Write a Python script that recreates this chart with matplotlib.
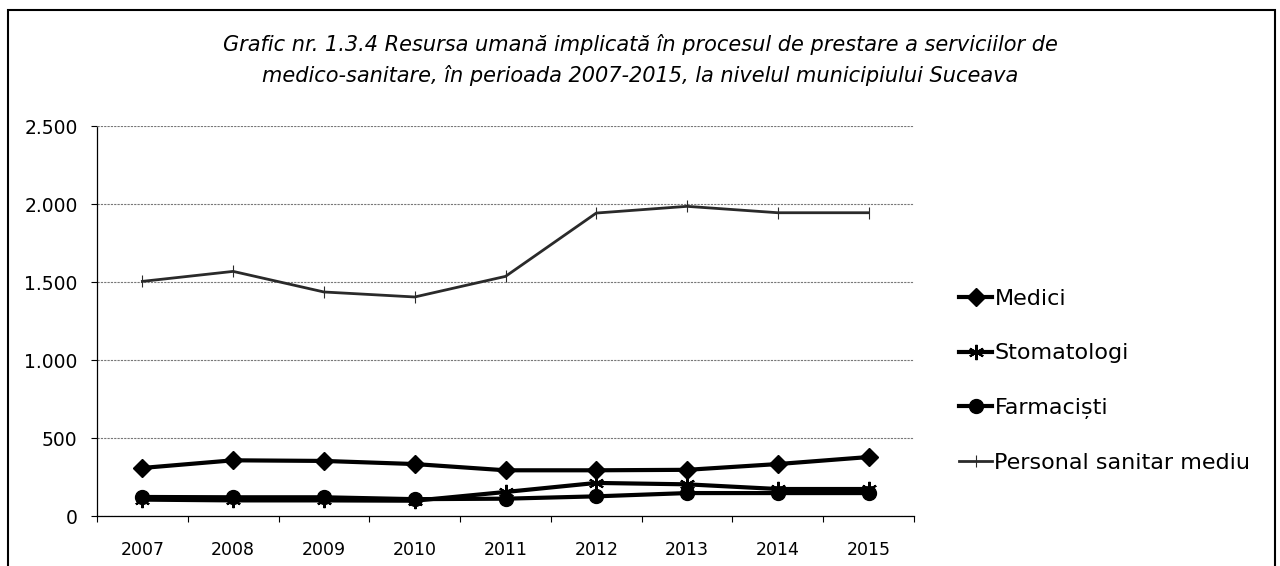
import matplotlib
matplotlib.use('Agg')
import matplotlib.pyplot as plt
from matplotlib.patches import Rectangle
from matplotlib.ticker import FuncFormatter, FixedLocator

# data
years = ['2007', '2008', '2009', '2010', '2011', '2012', '2013', '2014', '2015']
medici = [308, 357, 353, 333, 293, 293, 296, 333, 378]
stomatologi = [105, 100, 100, 98, 154, 212, 203, 173, 173]
farmacisti = [122, 120, 120, 108, 111, 126, 147, 147, 147]
personal = [1504, 1568, 1436, 1404, 1536, 1942, 1985, 1944, 1944]

title = ("Grafic nr. 1.3.4 Resursa umană implicată în procesul de prestare a serviciilor de\n"
         "medico-sanitare, în perioada 2007-2015, la nivelul municipiului Suceava")

plt.rcParams['font.family'] = ['DejaVu Sans']

W, H = 1280, 566
fig = plt.figure(figsize=(W / 100, H / 100), dpi=100)

# outer frame of the chart
fig.patches.append(Rectangle((8 / W, -0.01), (1275 - 8) / W, 1 - 10 / H + 0.01,
                             transform=fig.transFigure, fill=False,
                             edgecolor='black', linewidth=1.5))

ax = fig.add_axes([97 / W, 1 - 516 / H, (914 - 97) / W, (516 - 126) / H])

x = list(range(len(years)))
ax.plot(x, medici, color='black', lw=3.0, marker='D', ms=9, label='Medici', zorder=4)
ax.plot(x, stomatologi, color='black', lw=3.0, marker=(6, 2, 0), ms=11, mew=1.5,
        label='Stomatologi', zorder=3)
ax.plot(x, farmacisti, color='black', lw=3.0, marker='o', ms=10, label='Farmaciști', zorder=5)
ax.plot(x, personal, color='#2a2a2a', lw=2.0, marker='|', ms=8, mew=0.8,
        label='Personal sanitar mediu', zorder=2)

ax.set_xlim(-0.5, len(years) - 0.5)
ax.set_ylim(0, 2500)
ax.set_yticks(range(0, 2501, 500))
ax.yaxis.set_major_formatter(FuncFormatter(lambda v, p: f"{int(v):,}".replace(',', '.')))
ax.set_xticks(x)
ax.set_xticklabels(years)
ax.xaxis.set_minor_locator(FixedLocator([i + 0.5 for i in range(-1, len(years))]))
ax.tick_params(axis='x', which='major', length=0, pad=18, labelsize=12.5)
ax.tick_params(axis='x', which='minor', length=4, width=0.8, direction='out')
ax.tick_params(axis='y', length=4, width=0.8, pad=10, labelsize=13.5)

ax.grid(axis='y', color='#777777', linestyle=(0, (2, 1)), linewidth=0.8)
ax.set_axisbelow(True)
for s in ['top', 'right']:
    ax.spines[s].set_visible(False)
ax.spines['left'].set_linestyle((0, (3, 1)))
ax.spines['left'].set_linewidth(0.9)
ax.spines['bottom'].set_linestyle((0, (4, 1)))
ax.spines['bottom'].set_linewidth(0.9)

fig.text(0.5, 1 - 60 / H, title, ha='center', va='center', fontsize=15,
         style='italic', linespacing=1.55)

fig.legend(loc='upper left', bbox_to_anchor=(950 / W, 1 - 280 / H), frameon=False,
           fontsize=16, handlelength=1.5, handletextpad=0.1, labelspacing=1.55,
           borderaxespad=0)

fig.savefig('out.png', dpi=100)
